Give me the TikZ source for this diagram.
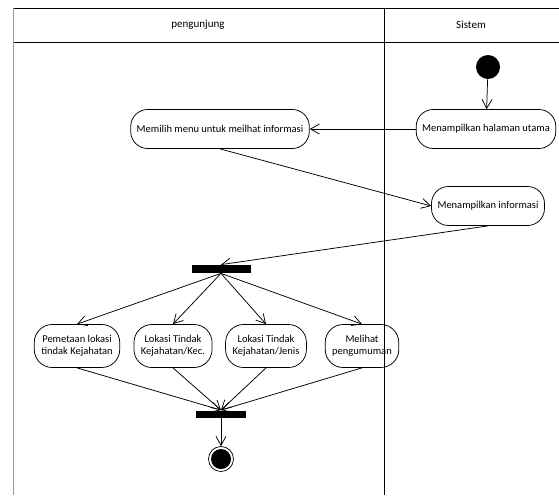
\documentclass[tikz,border=0pt]{standalone}
\usepackage{fontspec}
\setmainfont{Carlito}
\usetikzlibrary{arrows.meta,positioning}

\begin{document}
\begin{tikzpicture}[x=1pt,y=-1pt,line width=0.75pt,
  act/.style={draw,rounded corners=17pt,minimum height=39pt,inner xsep=6pt,font=\fontsize{10.5}{12}\selectfont},
  act2/.style={act,rounded corners=18pt,minimum height=43pt,align=center,inner xsep=7pt},
  bar/.style={fill=black,inner sep=0pt,minimum width=59pt,minimum height=8pt},
  flow/.style={-{Straight Barb[length=9pt,width=10pt]}}]
\useasboundingbox (0,0) rectangle (559,495);
% swimlanes
\draw (13,8) -- (559,8);
\draw (13,42) -- (559,42);
\draw (384,8) -- (384,495);
\draw[gray!80] (13,8) -- (13,495);
\node[font=\fontsize{11}{13}\selectfont] (lanep) at (198,25) {pengunjung};
\node[font=\fontsize{11}{13}\selectfont] (lanes) at (471,25) {Sistem};

% start / end
\node[circle,fill=black,inner sep=0pt,minimum size=24pt] (start) at (488,67) {};
\node[circle,draw,inner sep=0pt,minimum size=25pt] (end) at (221,459) {};
\fill (end) circle (10pt);

% activities
\node[act] (halaman) at (486,129) {Menampilkan halaman utama};
\node[act] (memilih) at (220,129) {Memilih menu untuk meilhat informasi};
\node[act] (info) at (488,206) {Menampilkan informasi};
\node[act2] (peta) at (77,346) {Pemetaan lokasi\\tindak Kejahatan};
\node[act2] (kec) at (173,346) {Lokasi Tindak\\Kejahatan/Kec.};
\node[act2] (jenis) at (266,346) {Lokasi Tindak\\Kejahatan/Jenis};
\node[act2] (lihat) at (362,346) {Melihat\\pengumuman};

% fork / join
\node[bar] (fork) at (221,269) {};
\node[bar,minimum width=50pt,minimum height=7pt] (join) at (221,414) {};

\draw[flow] (start) -- (halaman);
\draw[flow] (halaman) -- (memilih);
\draw[flow] (memilih.south) -- (info.west);
\draw[flow] (info.south) -- (fork.north);
\foreach \b in {peta,kec,jenis,lihat}{
  \draw[flow] (fork.south) -- (\b.north);
  \draw[flow] (\b.south) -- (join.north);
}
\draw[flow] (join) -- (end);
\end{tikzpicture}
\end{document}
